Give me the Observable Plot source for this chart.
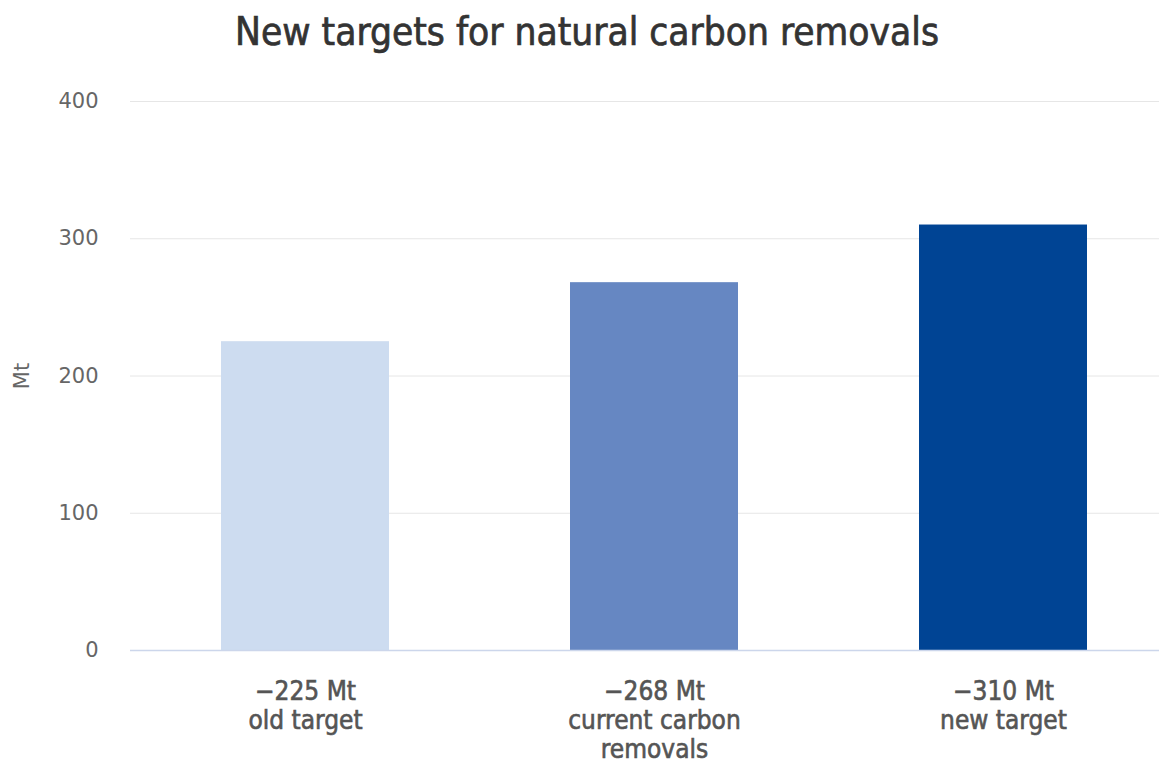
<!DOCTYPE html>
<html>
<head>
<meta charset="utf-8">
<script src="https://cdn.jsdelivr.net/npm/d3@7"></script>
<script src="https://cdn.jsdelivr.net/npm/@observablehq/plot@0.6"></script>
<style>
  html, body { margin: 0; padding: 0; background: #fff; overflow: hidden; }
  #title {
    height: 68px; padding-top: 12px; line-height: 39px;
    text-align: center; padding-left: 15px;
    font-family: "DejaVu Sans Condensed", "DejaVu Sans", sans-serif;
    font-size: 38.5px; color: #333; -webkit-text-stroke: 0.7px #333;
  }
  #chart svg { display: block; }
</style>
</head>
<body>
<div id="title">New targets for natural carbon removals</div>
<div id="chart"></div>
<script>
const categories = ["old target", "current carbon removals", "new target"];
const values = [225, 268, 310];
const tickLabels = ["−225 Mt\nold target", "−268 Mt\ncurrent carbon\nremovals", "−310 Mt\nnew target"];
const yTicks = [0, 100, 200, 300, 400];
const barColors = ["#cddcf0", "#6687c2", "#004494"];

const data = categories.map((c, i) => ({category: c, value: values[i]}));

const chart = Plot.plot({
  width: 1159,
  height: 684,
  marginLeft: 130,
  marginRight: 0,
  marginTop: 21,
  marginBottom: 114,
  style: {fontFamily: "'DejaVu Sans', sans-serif", background: "#fff"},
  x: {type: "band", domain: categories, range: [130, 1177], paddingInner: 0.52, paddingOuter: 0.26, align: 0.5, axis: null},
  y: {domain: [0, 400], axis: null},
  color: {domain: categories, range: barColors},
  marks: [
    Plot.gridY(yTicks, {stroke: "#e6e6e6", strokeOpacity: 1}),
    Plot.barY(data, {x: "category", y: "value", fill: "category"}),
    Plot.ruleY([0], {stroke: "#ccd6eb", strokeWidth: 1.5}),
    Plot.axisY({
      ticks: yTicks, tickSize: 0, tickPadding: 32, fontSize: 21, fill: "#666",
      label: "Mt", labelAnchor: "center", labelArrow: "none", labelOffset: 116
    }),
    Plot.axisX({
      tickSize: 0, tickPadding: 29, fontSize: 26, fill: "#555", lineHeight: 1.115,
      fontFamily: "'DejaVu Sans Condensed', 'DejaVu Sans', sans-serif",
      className: "xlab",
      tickFormat: d => tickLabels[categories.indexOf(d)], label: null
    })
  ]
});
d3.select(chart).selectAll("g[aria-label='x-axis tick label'] text")
  .attr("stroke", "#555").attr("stroke-width", 0.6).attr("paint-order", "stroke");
document.getElementById("chart").appendChild(chart);
</script>
</body>
</html>
